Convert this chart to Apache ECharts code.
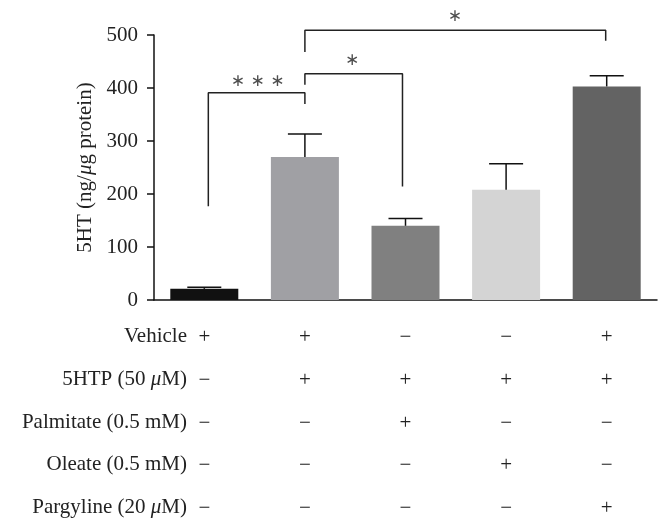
<!DOCTYPE html>
<html>
<head>
<meta charset="utf-8">
<script src="https://cdn.jsdelivr.net/npm/echarts@6/dist/echarts.min.js"></script>
<style>html,body{margin:0;padding:0;background:#fff}#c{width:671px;height:530px}</style>
</head>
<body>
<div id="c"></div>
<script>
// ---- data ----
const groups = ['G1', 'G2', 'G3', 'G4', 'G5'];
const means = [21, 270, 140, 208, 403];
const errTops = [24, 313, 154, 257, 423];
const barColors = ['#111111', '#a0a0a4', '#808080', '#d4d4d4', '#636363'];
const yTicks = [0, 100, 200, 300, 400, 500];
const conditions = ['Vehicle', '5HTP (50 μM)', 'Palmitate (0.5 mM)', 'Oleate (0.5 mM)', 'Pargyline (20 μM)'];
const signs = [
  ['+', '+', '−', '−', '+'],
  ['−', '+', '+', '+', '+'],
  ['−', '−', '+', '−', '−'],
  ['−', '−', '−', '+', '−'],
  ['−', '−', '−', '−', '+']
];
// significance brackets: [x (group index), y (data units)]
const bracket1 = [[0.04, 177], [0.04, 391], [1, 391], [1, 370]];
const bracket2 = [[1, 406], [1, 427], [1.97, 427], [1.97, 214]];
const bracket3 = [[1, 468], [1, 509], [3.99, 509], [3.99, 489]];
const starLabels = [[0.53, 413, '∗ ∗ ∗'], [1.47, 451, '∗'], [2.49, 534, '∗']];

const FONT = 'Liberation Serif';
const chart = echarts.init(document.getElementById('c'));

function richLabel(s) {
  return s.split(/(μ)/).filter(p => p).map(p => p === 'μ' ? '{i|μ}' : '{a|' + p + '}').join('');
}
const rich = {
  a: { fontFamily: FONT, fontSize: 21, color: '#222' },
  i: { fontFamily: FONT, fontSize: 21, fontStyle: 'italic', color: '#222' }
};

const rowY0 = 338, rowStep = 42.8;
const graphics = conditions.map((c, r) => ({
  type: 'text',
  right: 671 - 187,
  top: rowY0 + r * rowStep - 12,
  style: { text: richLabel(c), rich: rich, textAlign: 'right', fill: '#222' }
}));

function bracketSeries(d) {
  return {
    type: 'line', xAxisIndex: 1, yAxisIndex: 0, data: d, clip: false,
    symbol: 'none', silent: true, animation: false,
    lineStyle: { color: '#222', width: 1.5 }
  };
}

chart.setOption({
  animation: false,
  grid: { left: 154, right: 14, top: 35, bottom: 229 },
  xAxis: [{
    type: 'category', data: groups,
    axisLine: { onZero: false, lineStyle: { color: '#111', width: 1.5 } },
    axisTick: { alignWithLabel: true, length: 7, lineStyle: { color: '#111', width: 1.5 } },
    axisLabel: {
      margin: 16, interval: 0,
      fontFamily: FONT, fontSize: 21, color: '#222', lineHeight: rowStep,
      formatter: (v, i) => signs.map(row => row[i]).join('\n')
    }
  }, {
    type: 'value', min: -0.5, max: 4.5, show: false,
    axisLine: { onZero: false }
  }],
  yAxis: {
    type: 'value', min: yTicks[0], max: yTicks[yTicks.length - 1], interval: 100,
    splitLine: { show: false },
    axisLine: { show: true, onZero: false, lineStyle: { color: '#111', width: 1.5 } },
    axisTick: { show: true, length: 7, lineStyle: { color: '#111', width: 1.5 } },
    axisLabel: { margin: 16, fontFamily: FONT, fontSize: 21, color: '#222' },
    name: richLabel('5HT (ng/μg protein)'),
    nameLocation: 'middle', nameGap: 58, nameRotate: 90,
    nameTextStyle: { rich: rich }
  },
  graphic: graphics,
  series: [
    {
      type: 'bar', barWidth: 68,
      data: means.map((v, i) => ({ value: v, itemStyle: { color: barColors[i] } }))
    },
    {
      type: 'custom', xAxisIndex: 0, yAxisIndex: 0, clip: false, z: 5,
      data: means.map((v, i) => [i, v, errTops[i]]),
      renderItem: (params, api) => {
        const base = api.coord([api.value(0), api.value(1)]);
        const top = api.coord([api.value(0), api.value(2)]);
        const hw = 17;
        const st = { stroke: '#111', lineWidth: 1.5 };
        return { type: 'group', children: [
          { type: 'line', shape: { x1: base[0], y1: base[1], x2: top[0], y2: top[1] }, style: st },
          { type: 'line', shape: { x1: top[0] - hw, y1: top[1], x2: top[0] + hw, y2: top[1] }, style: st }
        ] };
      }
    },
    bracketSeries(bracket1),
    bracketSeries(bracket2),
    bracketSeries(bracket3),
    {
      type: 'scatter', xAxisIndex: 1, yAxisIndex: 0, clip: false, symbolSize: 1,
      itemStyle: { color: 'rgba(0,0,0,0)' },
      data: starLabels,
      label: {
        show: true, position: 'inside',
        formatter: p => p.data[2],
        fontFamily: 'DejaVu Sans', fontSize: 17, color: '#222'
      }
    }
  ]
});
</script>
</body>
</html>
